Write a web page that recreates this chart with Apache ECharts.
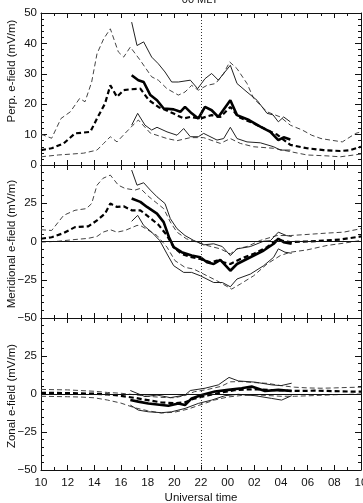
<!DOCTYPE html>
<html>
<head>
<meta charset="utf-8">
<script src="https://cdn.jsdelivr.net/npm/echarts@6/dist/echarts.min.js"></script>
<style>
html, body { margin: 0; padding: 0; background: #fff; }
#main { width: 363px; height: 503px; }
</style>
</head>
<body>
<div id="main"></div>
<script>
// x tick labels (UT hours, wrapping past midnight)
var timeLabels = ['10','12','14','16','18','20','22','00','02','04','06','08','10'];

// ---- Perp. e-field (mV/m) ----
var perpDashHi = [[10.0,10.0],[10.2,9.8],[10.8,8.8],[11.5,15.3],[12.2,17.5],[12.9,21.9],[13.3,20.8],[13.8,27.3],[14.2,36.6],[14.7,41.5],[15.2,44.8],[15.8,37.2],[16.2,35.5],[16.7,38.8],[17.45,34.4],[18.3,29],[18.8,27.9],[19.45,25.1],[20.3,23],[20.8,24],[21.3,26.2],[21.8,24.6],[22.45,26.2],[23.1,26.8],[23.7,30.1],[24.15,33.9],[24.7,31.7],[25.45,26.8],[25.95,21.9],[26.95,17.5],[27.95,15.8],[28.7,13.1],[29.6,11.5],[30.3,9.8],[31,8.7],[31.7,8.2],[32.6,7.6],[33.6,10.4],[34,10.9]];
var perpDashMed = [[10.0,4.9],[10.8,5.5],[11.7,7.1],[12.55,10.4],[13.7,10.9],[14.2,15.3],[14.8,20.2],[15.2,26.2],[15.7,22.4],[16.2,24.6],[16.7,24.9],[17.45,25.1],[18.1,21.3],[18.8,19.1],[19.9,17],[20.7,15.3],[21.2,15.8],[21.95,15.3],[22.8,16.4],[23.45,15.8],[24.2,19.1],[24.8,15.8],[25.95,13.7],[26.95,11.5],[27.7,10],[28.7,6.6],[29.95,5.5],[31.2,4.9],[32.45,4.6],[33.2,4.9],[34,6]];
var perpDashLo = [[10.0,2.7],[11.3,3.3],[12.3,3.6],[13.2,3.9],[14.2,4.9],[14.7,7.1],[15.2,9.3],[15.7,7.6],[16.3,10.4],[16.9,13.1],[17.3,14.8],[18.2,10.5],[19.45,8.7],[20.2,8],[21.2,9],[22.2,9],[23.45,7.1],[24.2,8.7],[24.95,7.1],[25.95,6],[27.45,5.5],[28.7,4.4],[29.95,3.3],[31.45,3],[32.45,2.7],[34,3.6]];
var perpHi = [[16.8,47],[17.2,39.3],[17.7,40.5],[18.3,35.5],[18.8,33.3],[19.3,30.6],[19.8,27.3],[20.3,27.3],[21.2,27.9],[21.75,25.1],[22.3,28.4],[22.8,30.1],[23.3,27.9],[24.2,32.8],[24.7,26.8],[25.45,24],[26.2,21.3],[26.95,17],[27.4,16.5],[27.8,14.2],[28.2,15.8],[28.7,14.2]];
var perpMed = [[16.8,29.5],[17.3,27.9],[17.7,27.3],[18.2,23],[18.7,21.3],[19.2,18.6],[19.95,18.3],[20.45,17.5],[20.8,19.1],[21.3,17],[21.8,15.3],[22.3,19.1],[22.8,18],[23.3,15.8],[24.2,21.3],[24.7,16.4],[25.6,14.8],[26.45,12.6],[27.2,10.9],[27.8,8.2],[28.2,9.1],[28.7,8.4]];
var perpLo = [[16.8,13.1],[17.25,17],[17.8,13.1],[18.3,11.5],[18.7,12.4],[19.45,10.9],[20.2,9.8],[20.7,12],[21.2,9.3],[21.8,9.3],[22.2,10.4],[23.2,8.2],[23.7,8.7],[24.2,12.4],[24.7,8.7],[25.45,7.6],[26.45,7.3],[27.45,6],[27.95,4.9],[28.7,4.9]];

// ---- Meridional e-field (mV/m) ----
var merDashHi = [[10.0,7.7],[10.8,7.2],[11.7,17.1],[12.55,20.4],[13.4,21.5],[13.8,24.8],[14.2,36.8],[14.65,41.3],[15.2,43.4],[15.8,36.8],[16.3,34.7],[17.05,33.6],[17.45,34.7],[18.1,29.2],[19.2,21.5],[19.7,12.7],[20.2,6.1],[20.9,1.8],[21.95,-1.1],[22.45,-2.6],[23.45,-4.8],[24.2,-8.1],[24.7,-4.8],[25.45,-3.3],[26.45,0.7],[27.7,3.9],[28.7,3.9],[29.95,4.6],[31.45,5.5],[32.7,6.1],[34,8.4]];
var merDashMed = [[10.0,1.8],[10.8,2.8],[11.7,5.5],[12.55,9.4],[13.55,9.9],[14.2,13.8],[14.8,18.2],[15.2,24.8],[15.7,22.6],[16.2,23],[16.8,20.4],[17.45,20.4],[18.1,16],[18.8,11],[19.45,3.9],[19.95,-3.7],[20.55,-8.1],[21.3,-10.3],[21.95,-11.4],[22.7,-13.6],[23.2,-12.5],[24.2,-14.7],[24.95,-11.4],[25.95,-8.1],[26.95,-3.7],[27.7,1.1],[28.7,-0.4],[29.95,0],[31.45,0.7],[32.45,1.3],[34,3.3]];
var merDashLo = [[10.0,-0.4],[11.3,0.2],[12.55,1.3],[13.5,2],[14.2,3.3],[14.65,6.1],[15.2,7.7],[15.7,6.1],[16.3,7.2],[17.2,10.5],[17.45,10.5],[18.7,3.9],[19.45,-3.7],[20.05,-12.5],[20.8,-16.9],[21.45,-18],[22.2,-21.3],[23.2,-25.7],[24.3,-31.1],[24.95,-27.8],[25.95,-22.4],[26.95,-14.7],[27.95,-9.2],[28.7,-7],[29.95,-5.5],[31.45,-2.6],[32.7,-1.1],[34,0.7]];
var merHi = [[16.8,46.7],[17.2,36.8],[17.7,38.4],[18.2,33.6],[18.7,29.2],[19.3,24.8],[19.7,14.9],[20.2,8.4],[20.8,3.9],[21.45,0.7],[22.2,-2.2],[22.95,-1.5],[23.6,-3.3],[24.2,-9.2],[24.7,-4.8],[25.7,-3.3],[26.7,0.2],[27.2,0.5],[27.8,6.1],[28.4,3.9],[28.8,3.3]];
var merMed = [[16.8,28.1],[17.45,25.9],[17.95,22.6],[18.7,18.2],[19.2,12.7],[19.6,2.8],[19.95,-3.7],[20.55,-7],[21.3,-9.2],[21.95,-10.3],[22.45,-13.6],[22.95,-14.7],[23.45,-12],[24.2,-19.1],[24.7,-14.7],[25.7,-10.3],[26.7,-5.9],[27.45,-1.5],[27.8,1.8],[28.2,-0.4],[28.8,-1.5]];
var merLo = [[16.8,13.2],[17.25,17.1],[17.7,10.5],[18.3,6.1],[18.9,0.7],[19.45,-8.1],[19.95,-15.8],[20.7,-20.2],[21.3,-20.2],[21.95,-22.4],[22.95,-26.8],[23.6,-26.8],[24.2,-29.6],[24.7,-24.5],[25.7,-21.3],[26.7,-15.8],[27.45,-10.3],[27.8,-4.8],[28.3,-7],[28.8,-7.7]];

// ---- Zonal e-field (mV/m) ----
var zonDashHi = [[10,3],[12,2.7],[14,1.8],[15,1],[16,0.5],[17,-0.5],[18,-1.5],[19,-2.2],[20,-2.5],[20.8,-1],[21.5,1.5],[22.5,3],[23.5,5],[24.2,8],[25,8.2],[26,7.5],[27,7],[28,5.5],[29,4.5],[30,4],[31,3.8],[32,4],[33,4.3],[34,4.5]];
var zonDashMed = [[10,0.8],[12,0.6],[14,0.2],[15,-0.3],[16,-1.2],[17,-2.5],[18,-4],[19,-5.5],[20,-6],[20.8,-5.5],[21.5,-3],[22.5,-1],[23.5,1],[24.5,2.5],[25.5,3],[26.5,3],[27.5,2.5],[28.5,2.2],[29.5,2],[30.5,2.2],[31.5,2],[32.5,1.8],[33.5,1.5],[34,1.5]];
var zonDashLo = [[10,-1.5],[12,-1.8],[13,-2],[14,-2.5],[15,-4],[16,-6],[17,-9],[18,-11],[19,-12.5],[20,-12],[21,-10],[22,-7],[23,-4],[24,-2],[25,-1],[26,-0.5],[27,-1],[28,-1.5],[29,-1.5],[30,-1.2],[32,-0.5],[34,0]];
var zonHi = [[16.7,2.3],[17.8,-1.7],[18.7,-0.7],[19.3,-1.7],[19.7,-2.4],[20.8,-0.7],[21.2,2.3],[22.3,3.8],[23.3,6],[24.1,10.9],[24.8,8.6],[26.05,7.8],[27.3,6],[28.0,5.5],[28.8,7.1]];
var zonMed = [[16.7,-4],[17.3,-5],[18.05,-6.2],[19.55,-7.7],[20.3,-6.2],[20.8,-7.3],[21.3,-2.9],[22.05,-0.7],[23.05,1.6],[24.05,2.7],[25.05,3.8],[25.8,4.9],[26.8,2],[27.8,2.7],[28.8,2]];
var zonLo = [[16.7,-7.3],[17.3,-10.6],[18.05,-11.7],[19.05,-12.3],[19.8,-11.7],[20.8,-9.5],[21.8,-6.2],[22.8,-4],[23.8,-1.1],[24.8,-0.2],[26.05,-1.1],[27.3,-2.9],[28.05,-4],[28.8,-1.1]];

var FONT = 'Liberation Sans';
var INK = '#111';

var gridTops = [13, 165, 318];
var gridHeights = [152, 153, 152];

var grids = [], xAxes = [], yAxes = [];
for (var g = 0; g < 3; g++) {
	grids.push({ left: 41, top: gridTops[g], width: 320, height: gridHeights[g], outerBoundsMode: 'none', containLabel: false });
	var last = g === 2;
	// bottom x axis
	xAxes.push({
		type: 'value', gridIndex: g, position: 'bottom', min: 10, max: 34, interval: 2,
		axisLine: { onZero: false, lineStyle: { color: INK, width: 1 } },
		axisTick: { inside: true, length: 5, lineStyle: { color: INK } },
		minorTick: { show: true, splitNumber: 2, length: 3, lineStyle: { color: INK } },
		splitLine: { show: false },
		axisLabel: {
			show: last, margin: 7, color: INK, fontFamily: FONT, fontSize: 11.5,
			formatter: function (v) { return timeLabels[Math.round((v - 10) / 2)]; }
		},
		name: last ? 'Universal time' : '', nameLocation: 'middle', nameGap: 22,
		nameTextStyle: { color: INK, fontFamily: FONT, fontSize: 11.5 }
	});
	// top x axis (ticks only)
	xAxes.push({
		type: 'value', gridIndex: g, position: 'top', min: 10, max: 34, interval: 2,
		axisLine: { onZero: false, lineStyle: { color: INK, width: 1 } },
		axisTick: { inside: true, length: 5, lineStyle: { color: INK } },
		minorTick: { show: true, splitNumber: 2, length: 3, lineStyle: { color: INK } },
		splitLine: { show: false }, axisLabel: { show: false }
	});
	var yMin = g === 0 ? 0 : -50, yStep = g === 0 ? 10 : 25;
	yAxes.push({
		type: 'value', gridIndex: g, position: 'left', min: yMin, max: 50, interval: yStep,
		axisLine: { show: true, onZero: false, lineStyle: { color: INK, width: 1 } },
		axisTick: { inside: true, length: 6, lineStyle: { color: INK } },
		minorTick: { show: true, splitNumber: 5, length: 3, lineStyle: { color: INK } },
		splitLine: { show: false },
		axisLabel: {
			margin: 4, color: INK, fontFamily: FONT, fontSize: 11.5,
			formatter: (function (gi) {
				return function (v) {
					if (gi > 0 && v === 50) return '';
					return String(v).replace('-', '\u2212');
				};
			})(g)
		}
	});
	yAxes.push({
		type: 'value', gridIndex: g, position: 'right', min: yMin, max: 50, interval: yStep,
		axisLine: { show: true, onZero: false, lineStyle: { color: INK, width: 1 } },
		axisTick: { inside: true, length: 6, lineStyle: { color: INK } },
		minorTick: { show: true, splitNumber: 5, length: 3, lineStyle: { color: INK } },
		splitLine: { show: false }, axisLabel: { show: false }
	});
}

function mk(data, g, kind) {
	var styles = {
		thinSolid: { width: 1, type: 'solid', color: '#222' },
		thickSolid: { width: 2.6, type: 'solid', color: '#000' },
		thinDash: { width: 1, type: [5, 3], color: '#444' },
		thickDash: { width: 2.2, type: [5, 3], color: '#000' }
	};
	return {
		type: 'line', xAxisIndex: g * 2, yAxisIndex: g * 2, data: data,
		showSymbol: false, symbol: 'none', animation: false, silent: true,
		lineStyle: styles[kind], z: kind.indexOf('thick') === 0 ? 3 : 2
	};
}

var panels = [
	[perpDashHi, perpDashMed, perpDashLo, perpHi, perpMed, perpLo],
	[merDashHi, merDashMed, merDashLo, merHi, merMed, merLo],
	[zonDashHi, zonDashMed, zonDashLo, zonHi, zonMed, zonLo]
];
var kinds = ['thinDash', 'thickDash', 'thinDash', 'thinSolid', 'thickSolid', 'thinSolid'];

var series = [];
panels.forEach(function (p, g) {
	p.forEach(function (d, i) {
		var s = mk(d, g, kinds[i]);
		if (i === 0) {
			var lines = [{ xAxis: 22, lineStyle: { type: [1, 2], color: '#333', width: 1 } }];
			if (g > 0) lines.push({ yAxis: 0, lineStyle: { type: 'solid', color: INK, width: 1 } });
			s.markLine = { silent: true, symbol: 'none', label: { show: false }, animation: false, data: lines };
		}
		series.push(s);
	});
});

var yNames = [
	{ text: 'Perp. e-field (mV/m)', y: 71 },
	{ text: 'Meridional e-field (mV/m)', y: 244 },
	{ text: 'Zonal e-field (mV/m)', y: 396 }
];

var chart = echarts.init(document.getElementById('main'));
chart.setOption({
	animation: false,
	backgroundColor: '#fff',
	grid: grids,
	xAxis: xAxes,
	yAxis: yAxes,
	series: series,
	graphic: [
		{ type: 'text', x: 200, y: 5, style: { text: '00 MLT', fill: INK, font: '11px "Liberation Sans"', align: 'center', verticalAlign: 'bottom' } }
	].concat(yNames.map(function (n) {
		return { type: 'text', x: 12, y: n.y, rotation: Math.PI / 2,
			style: { text: n.text, fill: INK, font: '11.5px "Liberation Sans"', align: 'center', verticalAlign: 'middle' } };
	}))
});
</script>
</body>
</html>
